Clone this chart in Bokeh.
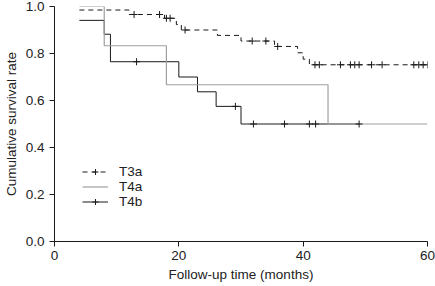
import numpy as np
from bokeh.plotting import figure
from bokeh.models import Range1d, FixedTicker, PrintfTickFormatter, Legend, LegendItem
from bokeh.embed import file_html
from bokeh.resources import INLINE

# Kaplan-Meier step data (time of step, survival after step)
t3a_time = [4, 12, 17.7, 19.6, 20.4, 26.2, 30, 35.4, 39.1, 40, 41, 60]
t3a_surv = [0.985, 0.966, 0.95, 0.923, 0.90, 0.877, 0.853, 0.83, 0.803, 0.776, 0.752, 0.752]
t3a_cens = [12.8, 16.9, 18.0, 18.6, 21.0, 31.8, 34.0, 35.9, 41.9, 42.6, 46.0, 47.6,
            48.3, 49.0, 51.0, 52.7, 57.8, 58.6, 59.3, 60.0]

t4a_time = [4, 8, 18, 44, 60]
t4a_surv = [1.0, 0.833, 0.667, 0.5, 0.5]

t4b_time = [4, 8, 9, 20, 23, 26, 30, 49]
t4b_surv = [0.941, 0.882, 0.765, 0.70, 0.637, 0.575, 0.5, 0.5]
t4b_cens = [13.2, 29.1, 32.0, 37.0, 41.0, 42.0, 49.0]

x_ticks = [0, 20, 40, 60]
y_ticks = [0.0, 0.2, 0.4, 0.6, 0.8, 1.0]


def on_curve(times, survs, cens):
    idx = np.searchsorted(np.array(times), np.array(cens), side="right") - 1
    return [survs[i] for i in idx]


FONT = "Liberation Sans"
FS = "13.5px"
TXT = "#222222"
BLACK = "#1a1a1a"
GRAY = "#a0a0a0"

p = figure(width=435, height=286, x_range=Range1d(0, 60), y_range=Range1d(0, 1.0),
           output_backend="svg", toolbar_location=None,
           min_border_left=53, min_border_right=8, min_border_top=6, min_border_bottom=45)
p.outline_line_color = None
p.xgrid.visible = False
p.ygrid.visible = False
p.background_fill_color = "white"

for ax in (p.xaxis[0], p.yaxis[0]):
    ax.axis_line_color = BLACK
    ax.major_tick_line_color = BLACK
    ax.major_tick_out = 5
    ax.major_tick_in = 0
    ax.minor_tick_line_color = None
    ax.major_label_text_font = FONT
    ax.major_label_text_font_size = FS
    ax.major_label_text_color = TXT
    ax.axis_label_text_font = FONT
    ax.axis_label_text_font_size = FS
    ax.axis_label_text_font_style = "normal"
    ax.axis_label_text_color = TXT

p.xaxis.ticker = FixedTicker(ticks=x_ticks)
p.yaxis.ticker = FixedTicker(ticks=y_ticks)
p.yaxis.formatter = PrintfTickFormatter(format="%.1f")
p.xaxis.axis_label = "Follow-up time (months)"
p.yaxis.axis_label = "Cumulative survival rate"
p.xaxis.major_label_standoff = 4
p.xaxis.axis_label_standoff = 4
p.yaxis.major_label_standoff = 5
p.yaxis.axis_label_standoff = 4

r3_line = p.step(t3a_time, t3a_surv, mode="after", line_color=BLACK, line_width=1,
                 line_dash="5 4")
r3_c = p.scatter(t3a_cens, on_curve(t3a_time, t3a_surv, t3a_cens), marker="cross",
                 size=7, line_color=BLACK, line_width=1)

r4b_line = p.step(t4b_time, t4b_surv, mode="after", line_color=BLACK, line_width=1)
r4a_line = p.step(t4a_time, t4a_surv, mode="after", line_color=GRAY, line_width=1.2)
r4b_c = p.scatter(t4b_cens, on_curve(t4b_time, t4b_surv, t4b_cens), marker="cross",
                  size=7, line_color=BLACK, line_width=1)

legend = Legend(items=[
    LegendItem(label="T3a", renderers=[r3_line, r3_c]),
    LegendItem(label="T4a", renderers=[r4a_line]),
    LegendItem(label="T4b", renderers=[r4b_line, r4b_c]),
], location=(28, 32))
legend.glyph_width = 26
legend.glyph_height = 15
legend.label_height = 15
legend.label_standoff = 11
legend.spacing = 0
legend.padding = 0
legend.margin = 0
legend.border_line_color = None
legend.background_fill_alpha = 0
legend.label_text_font = FONT
legend.label_text_font_size = FS
legend.label_text_color = TXT
p.add_layout(legend, "center")

open("out.html", "w").write(file_html(p, INLINE))
